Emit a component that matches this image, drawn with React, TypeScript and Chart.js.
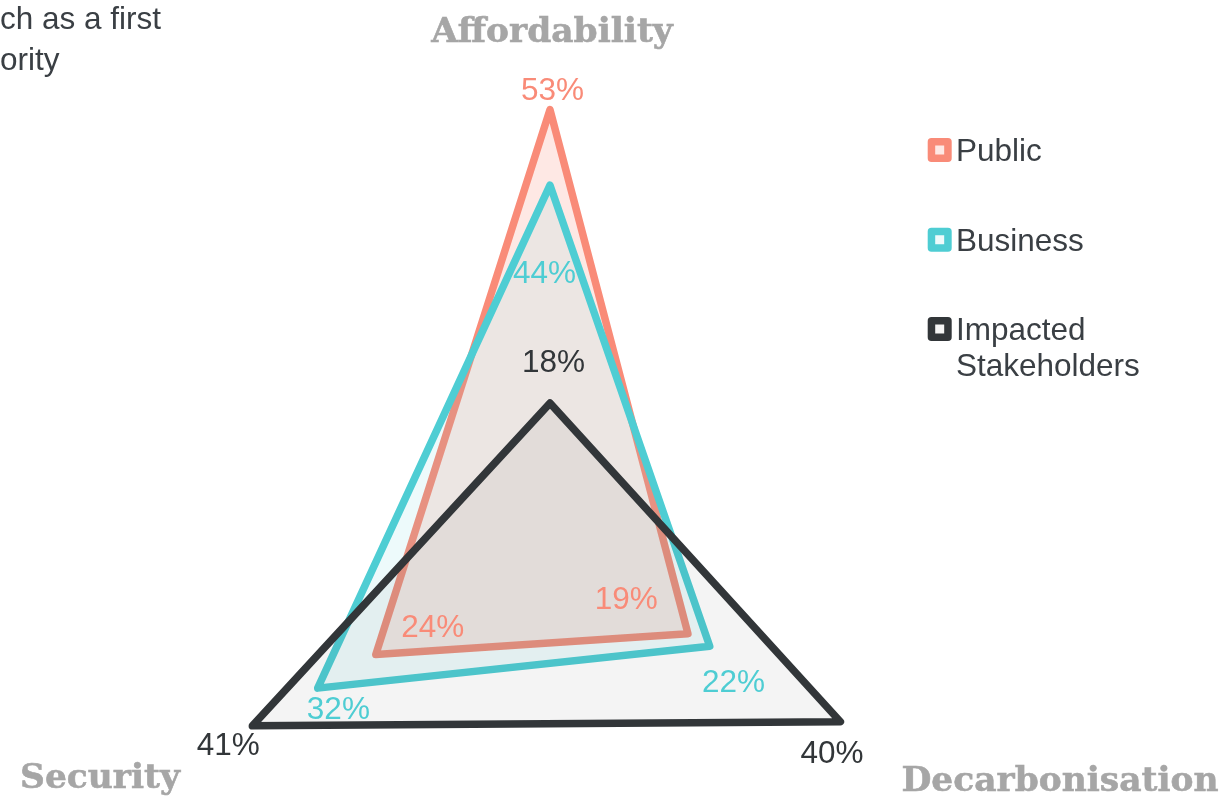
import { useEffect, useRef } from "react";
import { Chart, registerables } from "chart.js";

Chart.register(...registerables);

// ---- data ----
const AXES = ["Affordability", "Decarbonisation", "Security"];
const PUBLIC = [53, 19, 24];
const BUSINESS = [44, 22, 32];
const IMPACTED = [18, 40, 41];
const SERIES_NAMES = [["Public"], ["Business"], ["Impacted", "Stakeholders"]];
const SCALE_MAX = 60;
const TITLE_LINES = ["ch as a first", "ority"];

// ---- styles ----
const LINE_COLORS = ["#F98B78", "#4ECDD3", "#323639"];
const FILL_COLORS = ["rgba(249,139,120,0.2)", "rgba(78,205,211,0.1)", "rgba(50,54,57,0.055)"];
const TEXT_DARK = "#3A3F44";
const AXIS_GREY = "#A6A6A6";
const SANS = "'Liberation Sans', Arial, sans-serif";
const SERIF = "'DejaVu Serif', Georgia, serif";

// value label offsets (px) relative to each point, [series][axis]
const VALUE_LABEL_OFFSETS = [
  [[2.5, -9.7], [-61.7, -24.4], [57, -17.4]],
  [[-5.5, 98], [23.8, 46], [20.7, 31]],
  [[3.5, -31], [-8.3, 41], [-24, 29.4]],
];
// axis label offsets (px) relative to the outer end of each axis
const AXIS_LABEL_OFFSETS = [[2, -9], [74.4, -14.6], [-14.4, -17.3]];
const AXIS_LABEL_TARGET_WIDTH = 719;

const overlayPlugin = {
  id: "overlay",
  afterDatasetsDraw(chart: any) {
    const ctx = chart.ctx as CanvasRenderingContext2D;
    const r = chart.scales.r;
    ctx.save();
    ctx.textAlign = "center";
    ctx.textBaseline = "alphabetic";

    // value labels
    ctx.font = `31.5px ${SANS}`;
    chart.data.datasets.forEach((ds: any, di: number) => {
      ctx.fillStyle = LINE_COLORS[di];
      ds.data.forEach((v: number, j: number) => {
        const p = r.getPointPosition(j, r.getDistanceFromCenterForValue(v));
        const [dx, dy] = VALUE_LABEL_OFFSETS[di][j];
        ctx.fillText(`${v}%`, p.x + dx, p.y + dy);
      });
    });

    // axis labels
    ctx.font = `bold 34px ${SERIF}`;
    const total = AXES.reduce((s, a) => s + ctx.measureText(a).width, 0);
    const size = (34 * AXIS_LABEL_TARGET_WIDTH) / total;
    ctx.font = `bold ${size.toFixed(2)}px ${SERIF}`;
    ctx.fillStyle = AXIS_GREY;
    ctx.strokeStyle = AXIS_GREY;
    ctx.lineWidth = 0.6;
    chart.data.labels.forEach((lab: string, j: number) => {
      const p = r.getPointPosition(j, r.drawingArea);
      const [dx, dy] = AXIS_LABEL_OFFSETS[j];
      ctx.fillText(lab, p.x + dx, p.y + dy);
      ctx.strokeText(lab, p.x + dx, p.y + dy);
    });

    // legend
    const legendTop = [150, 239.7, 329];
    ctx.textAlign = "left";
    ctx.font = `31.5px ${SANS}`;
    chart.data.datasets.forEach((ds: any, di: number) => {
      const cy = legendTop[di];
      const box = 16.5;
      const cx = 939.7;
      ctx.lineJoin = "round";
      ctx.lineWidth = 7.5;
      ctx.fillStyle = FILL_COLORS[di];
      ctx.fillRect(cx - box / 2, cy - box / 2, box, box);
      ctx.strokeStyle = LINE_COLORS[di];
      ctx.strokeRect(cx - box / 2, cy - box / 2, box, box);
      ctx.fillStyle = TEXT_DARK;
      const lines = SERIES_NAMES[di];
      lines.forEach((t, li) => {
        ctx.fillText(t, 956, cy + 11 + li * 36);
      });
    });

    // cropped title
    ctx.fillStyle = TEXT_DARK;
    ctx.font = `31.5px ${SANS}`;
    TITLE_LINES.forEach((t, i) => ctx.fillText(t, 0, 28.5 + i * 41));

    ctx.restore();
  },
};

export default function App() {
  const ref = useRef<HTMLCanvasElement | null>(null);

  useEffect(() => {
    if (!ref.current) return;
    const seriesValues = [PUBLIC, BUSINESS, IMPACTED];
    const chart = new Chart(ref.current, {
      type: "radar",
      data: {
        labels: AXES,
        datasets: seriesValues.map((vals, i) => ({
          label: SERIES_NAMES[i].join(" "),
          data: vals,
          borderColor: LINE_COLORS[i],
          backgroundColor: FILL_COLORS[i],
          borderWidth: 7.5,
          borderJoinStyle: "round" as const,
          borderCapStyle: "round" as const,
          fill: true,
          pointRadius: 0,
          pointHoverRadius: 0,
          order: 3 - i,
        })),
      },
      options: {
        animation: false,
        responsive: false,
        events: [],
        layout: { padding: { left: 47, top: 51, right: 177, bottom: 0 } },
        plugins: {
          legend: { display: false },
          tooltip: { enabled: false },
          title: { display: false },
        },
        scales: {
          r: {
            min: 0,
            max: SCALE_MAX,
            ticks: { display: false },
            grid: { display: false },
            angleLines: { display: false },
            pointLabels: { display: false },
          },
        },
        elements: { line: { tension: 0 } },
      },
      plugins: [overlayPlugin],
    });
    return () => chart.destroy();
  }, []);

  return (
    <div
      style={{
        position: "fixed",
        left: 0,
        top: 0,
        width: 1230,
        height: 799,
        overflow: "hidden",
        background: "#fff",
      }}
    >
      <canvas ref={ref} width={1230} height={1057} style={{ display: "block" }} />
    </div>
  );
}
